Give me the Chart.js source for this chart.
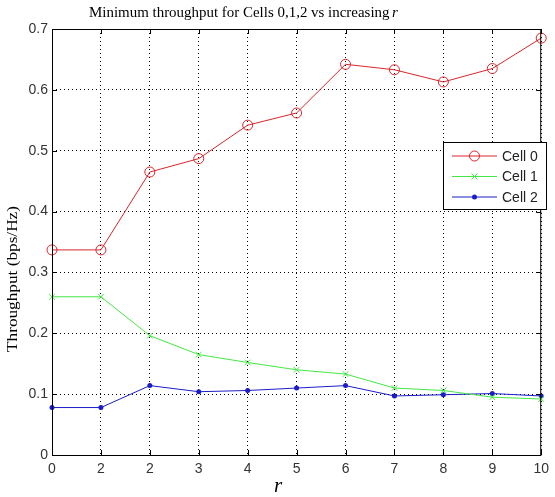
<!DOCTYPE html>
<html>
<head>
<meta charset="utf-8">
<script src="https://cdn.jsdelivr.net/npm/chart.js@4/dist/chart.umd.min.js"></script>
<style>
  html, body { margin: 0; padding: 0; background: #fff; }
  #wrap { width: 555px; height: 497px; }
</style>
</head>
<body>
<div id="wrap"><canvas id="c" width="555" height="497"></canvas></div>
<script>
// x labels as printed on the reference (second label really reads "2")
const rLabels = ['0', '2', '2', '3', '4', '5', '6', '7', '8', '9', '10'];
const cell0 = [0.337, 0.337, 0.465, 0.487, 0.542, 0.562, 0.642, 0.633, 0.613, 0.635, 0.685];
const cell1 = [0.260, 0.260, 0.196, 0.165, 0.152, 0.140, 0.133, 0.110, 0.106, 0.095, 0.092];
const cell2 = [0.078, 0.078, 0.114, 0.104, 0.106, 0.110, 0.114, 0.097, 0.099, 0.101, 0.097];
const yTicks = [0, 0.1, 0.2, 0.3, 0.4, 0.5, 0.6, 0.7];

const RED = '#d8262b', GREEN = '#44e844', BLUE = '#1c1cc8';
const SERIF = '"Liberation Serif", "DejaVu Serif", serif';

// draw text squeezed/stretched to a target width, centred at (x, y)
function fitText(ctx, txt, x, y, width) {
  const w = ctx.measureText(txt).width;
  ctx.save();
  ctx.translate(x, y);
  ctx.scale(width / w, 1);
  ctx.textAlign = 'center';
  ctx.fillText(txt, 0, 0);
  ctx.restore();
}

// frame, inward ticks, title, axis labels, legend
const matlabLook = {
  id: 'matlabLook',
  afterDraw(chart) {
    const { ctx, chartArea: a, scales } = chart;
    ctx.save();
    ctx.strokeStyle = '#000';
    ctx.lineWidth = 1;
    ctx.strokeRect(a.left + 0.5, a.top + 0.5, a.right - a.left - 1, a.bottom - a.top);

    ctx.beginPath();
    scales.x.ticks.forEach((t, i) => {
      const x = Math.round(scales.x.getPixelForTick(i)) + 0.5;
      ctx.moveTo(x, a.bottom); ctx.lineTo(x, a.bottom - 5);
      ctx.moveTo(x, a.top); ctx.lineTo(x, a.top + 5);
    });
    yTicks.forEach(v => {
      const y = Math.round(scales.y.getPixelForValue(v)) + 0.5;
      ctx.moveTo(a.left, y); ctx.lineTo(a.left + 5, y);
      ctx.moveTo(a.right, y); ctx.lineTo(a.right - 5, y);
    });
    ctx.stroke();

    ctx.fillStyle = '#000';
    ctx.textBaseline = 'middle';
    ctx.font = '15px ' + SERIF;
    fitText(ctx, 'Minimum throughput for Cells 0,1,2 vs increasing  ', 243, 13, 308);
    ctx.font = 'italic 15px ' + SERIF;
    ctx.textAlign = 'left';
    ctx.fillText('r', 392, 13);

    ctx.textAlign = 'center';
    ctx.font = 'italic 21px ' + SERIF;
    ctx.fillText('r', 278, 486);

    ctx.save();
    ctx.translate(13, 279);
    ctx.rotate(-Math.PI / 2);
    ctx.font = '14px ' + SERIF;
    fitText(ctx, 'Throughput (bps/Hz)', 0, 0, 146);
    ctx.restore();

    // legend box
    const lx = 443, ly = 142, lw = 103, lh = 67;
    ctx.fillStyle = '#fff';
    ctx.fillRect(lx, ly, lw, lh);
    ctx.strokeStyle = '#000';
    ctx.strokeRect(lx + 0.5, ly + 0.5, lw, lh);
    ctx.font = '14px "Liberation Sans", Arial, sans-serif';
    ctx.textAlign = 'left';
    chart.data.datasets.forEach((ds, i) => {
      const y = ly + 14 + i * 20.5;
      ctx.strokeStyle = ds.borderColor;
      ctx.beginPath();
      ctx.moveTo(lx + 9, y); ctx.lineTo(lx + 54, y);
      ctx.stroke();
      const cx = lx + 31.5;
      if (ds.pointStyle === 'circle' && ds.pointRadius > 3) {
        ctx.beginPath(); ctx.arc(cx, y, 5, 0, Math.PI * 2); ctx.stroke();
      } else if (ds.pointStyle === 'crossRot') {
        ctx.beginPath();
        ctx.moveTo(cx - 3, y - 3); ctx.lineTo(cx + 3, y + 3);
        ctx.moveTo(cx - 3, y + 3); ctx.lineTo(cx + 3, y - 3);
        ctx.stroke();
      } else {
        ctx.fillStyle = ds.borderColor;
        ctx.beginPath(); ctx.arc(cx, y, 2.5, 0, Math.PI * 2); ctx.fill();
      }
      ctx.fillStyle = '#222';
      ctx.fillText(ds.label, lx + 59, y + 1);
    });
    ctx.restore();
  }
};

new Chart(document.getElementById('c'), {
  type: 'line',
  data: {
    labels: rLabels,
    datasets: [
      { label: 'Cell 0', data: cell0, borderColor: RED, backgroundColor: 'rgba(0,0,0,0)',
        borderWidth: 1, pointStyle: 'circle', pointRadius: 5, pointBorderWidth: 1,
        pointBorderColor: RED, pointBackgroundColor: 'rgba(0,0,0,0)' },
      { label: 'Cell 1', data: cell1, borderColor: GREEN, backgroundColor: GREEN,
        borderWidth: 1, pointStyle: 'crossRot', pointRadius: 4, pointBorderWidth: 1,
        pointBorderColor: GREEN },
      { label: 'Cell 2', data: cell2, borderColor: BLUE, backgroundColor: BLUE,
        borderWidth: 1, pointStyle: 'circle', pointRadius: 2.5, pointBorderWidth: 0,
        pointBackgroundColor: BLUE }
    ]
  },
  options: {
    responsive: false,
    animation: false,
    layout: { padding: { top: 29, right: 4, left: 0, bottom: 0 } },
    plugins: { legend: { display: false }, tooltip: { enabled: false } },
    elements: { line: { tension: 0 } },
    scales: {
      x: {
        type: 'category',
        offset: false,
        grid: { color: '#000', lineWidth: 1, drawTicks: false },
        border: { display: false, dash: [1, 3] },
        ticks: { color: '#333', padding: 6, maxRotation: 0, autoSkip: false,
                 font: { family: '"Liberation Sans", Arial, sans-serif', size: 14 } },
        afterFit(s) { s.height = 42; }
      },
      y: {
        min: 0, max: 0.7,
        grid: { color: '#000', lineWidth: 1, drawTicks: false },
        border: { display: false, dash: [1, 3] },
        afterBuildTicks(s) { s.ticks = yTicks.map(v => ({ value: v })); },
        ticks: { color: '#333', padding: 4,
                 callback: v => String(+v.toFixed(1)),
                 font: { family: '"Liberation Sans", Arial, sans-serif', size: 14 } },
        afterFit(s) { s.width = 52; }
      }
    }
  },
  plugins: [matlabLook]
});
</script>
</body>
</html>
